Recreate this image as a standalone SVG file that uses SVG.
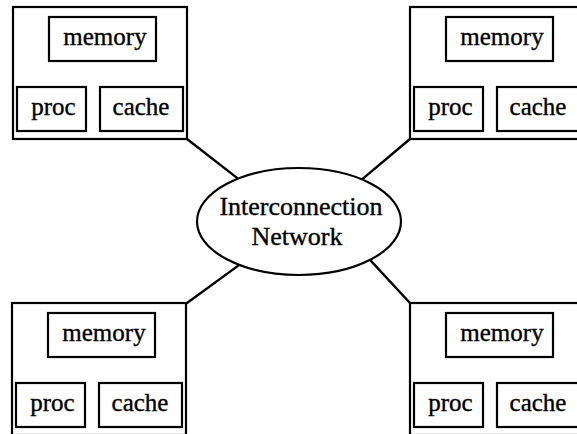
<svg xmlns="http://www.w3.org/2000/svg" width="577" height="434" viewBox="0 0 577 434">
  <style>
    .box { fill: #fff; stroke: #000; stroke-width: 2.2; }
    .net { fill: #fff; stroke: #000; stroke-width: 2.2; }
    .wire { stroke: #000; stroke-width: 2.4; fill: none; stroke-linecap: round; }
    .lbl { font-family: "Liberation Serif", "Times New Roman", serif; font-size: 25px; fill: #000; stroke: #000; stroke-width: 0.35; text-anchor: middle; }
    .netlbl { font-family: "Liberation Serif", "Times New Roman", serif; font-size: 26px; fill: #000; stroke: #000; stroke-width: 0.35; text-anchor: middle; }
  </style>
  <defs>
    <!-- one processing node: outer frame with memory, proc and cache units -->
    <g id="pnode">
      <rect class="box" x="0" y="0" width="174" height="132"/>
      <rect class="box" x="36" y="10" width="107" height="44"/>
      <text class="lbl" x="92" y="38.3">memory</text>
      <rect class="box" x="4" y="80" width="69" height="44"/>
      <text class="lbl" x="40.5" y="108.3">proc</text>
      <rect class="box" x="87" y="80" width="83" height="44"/>
      <text class="lbl" x="128" y="108.3">cache</text>
    </g>
  </defs>
  <rect width="577" height="434" fill="#fff"/>

  <g id="connectors">
    <line class="wire" x1="187" y1="139" x2="238" y2="178.6"/>
    <line class="wire" x1="410" y1="139" x2="362" y2="179.4"/>
    <line class="wire" x1="187" y1="303" x2="240" y2="264.4"/>
    <line class="wire" x1="410" y1="303" x2="370" y2="259.9"/>
  </g>

  <g id="node-top-left" transform="translate(13,7)"><use href="#pnode"/></g>
  <g id="node-top-right" transform="translate(410,7)"><use href="#pnode"/></g>
  <g id="node-bottom-left" transform="translate(12,303)"><use href="#pnode"/></g>
  <g id="node-bottom-right" transform="translate(410,303)"><use href="#pnode"/></g>

  <g id="network">
    <ellipse class="net" cx="299" cy="221.5" rx="102" ry="53.5"/>
    <text class="netlbl" x="301" y="215">Interconnection</text>
    <text class="netlbl" x="297" y="245">Network</text>
  </g>
</svg>
